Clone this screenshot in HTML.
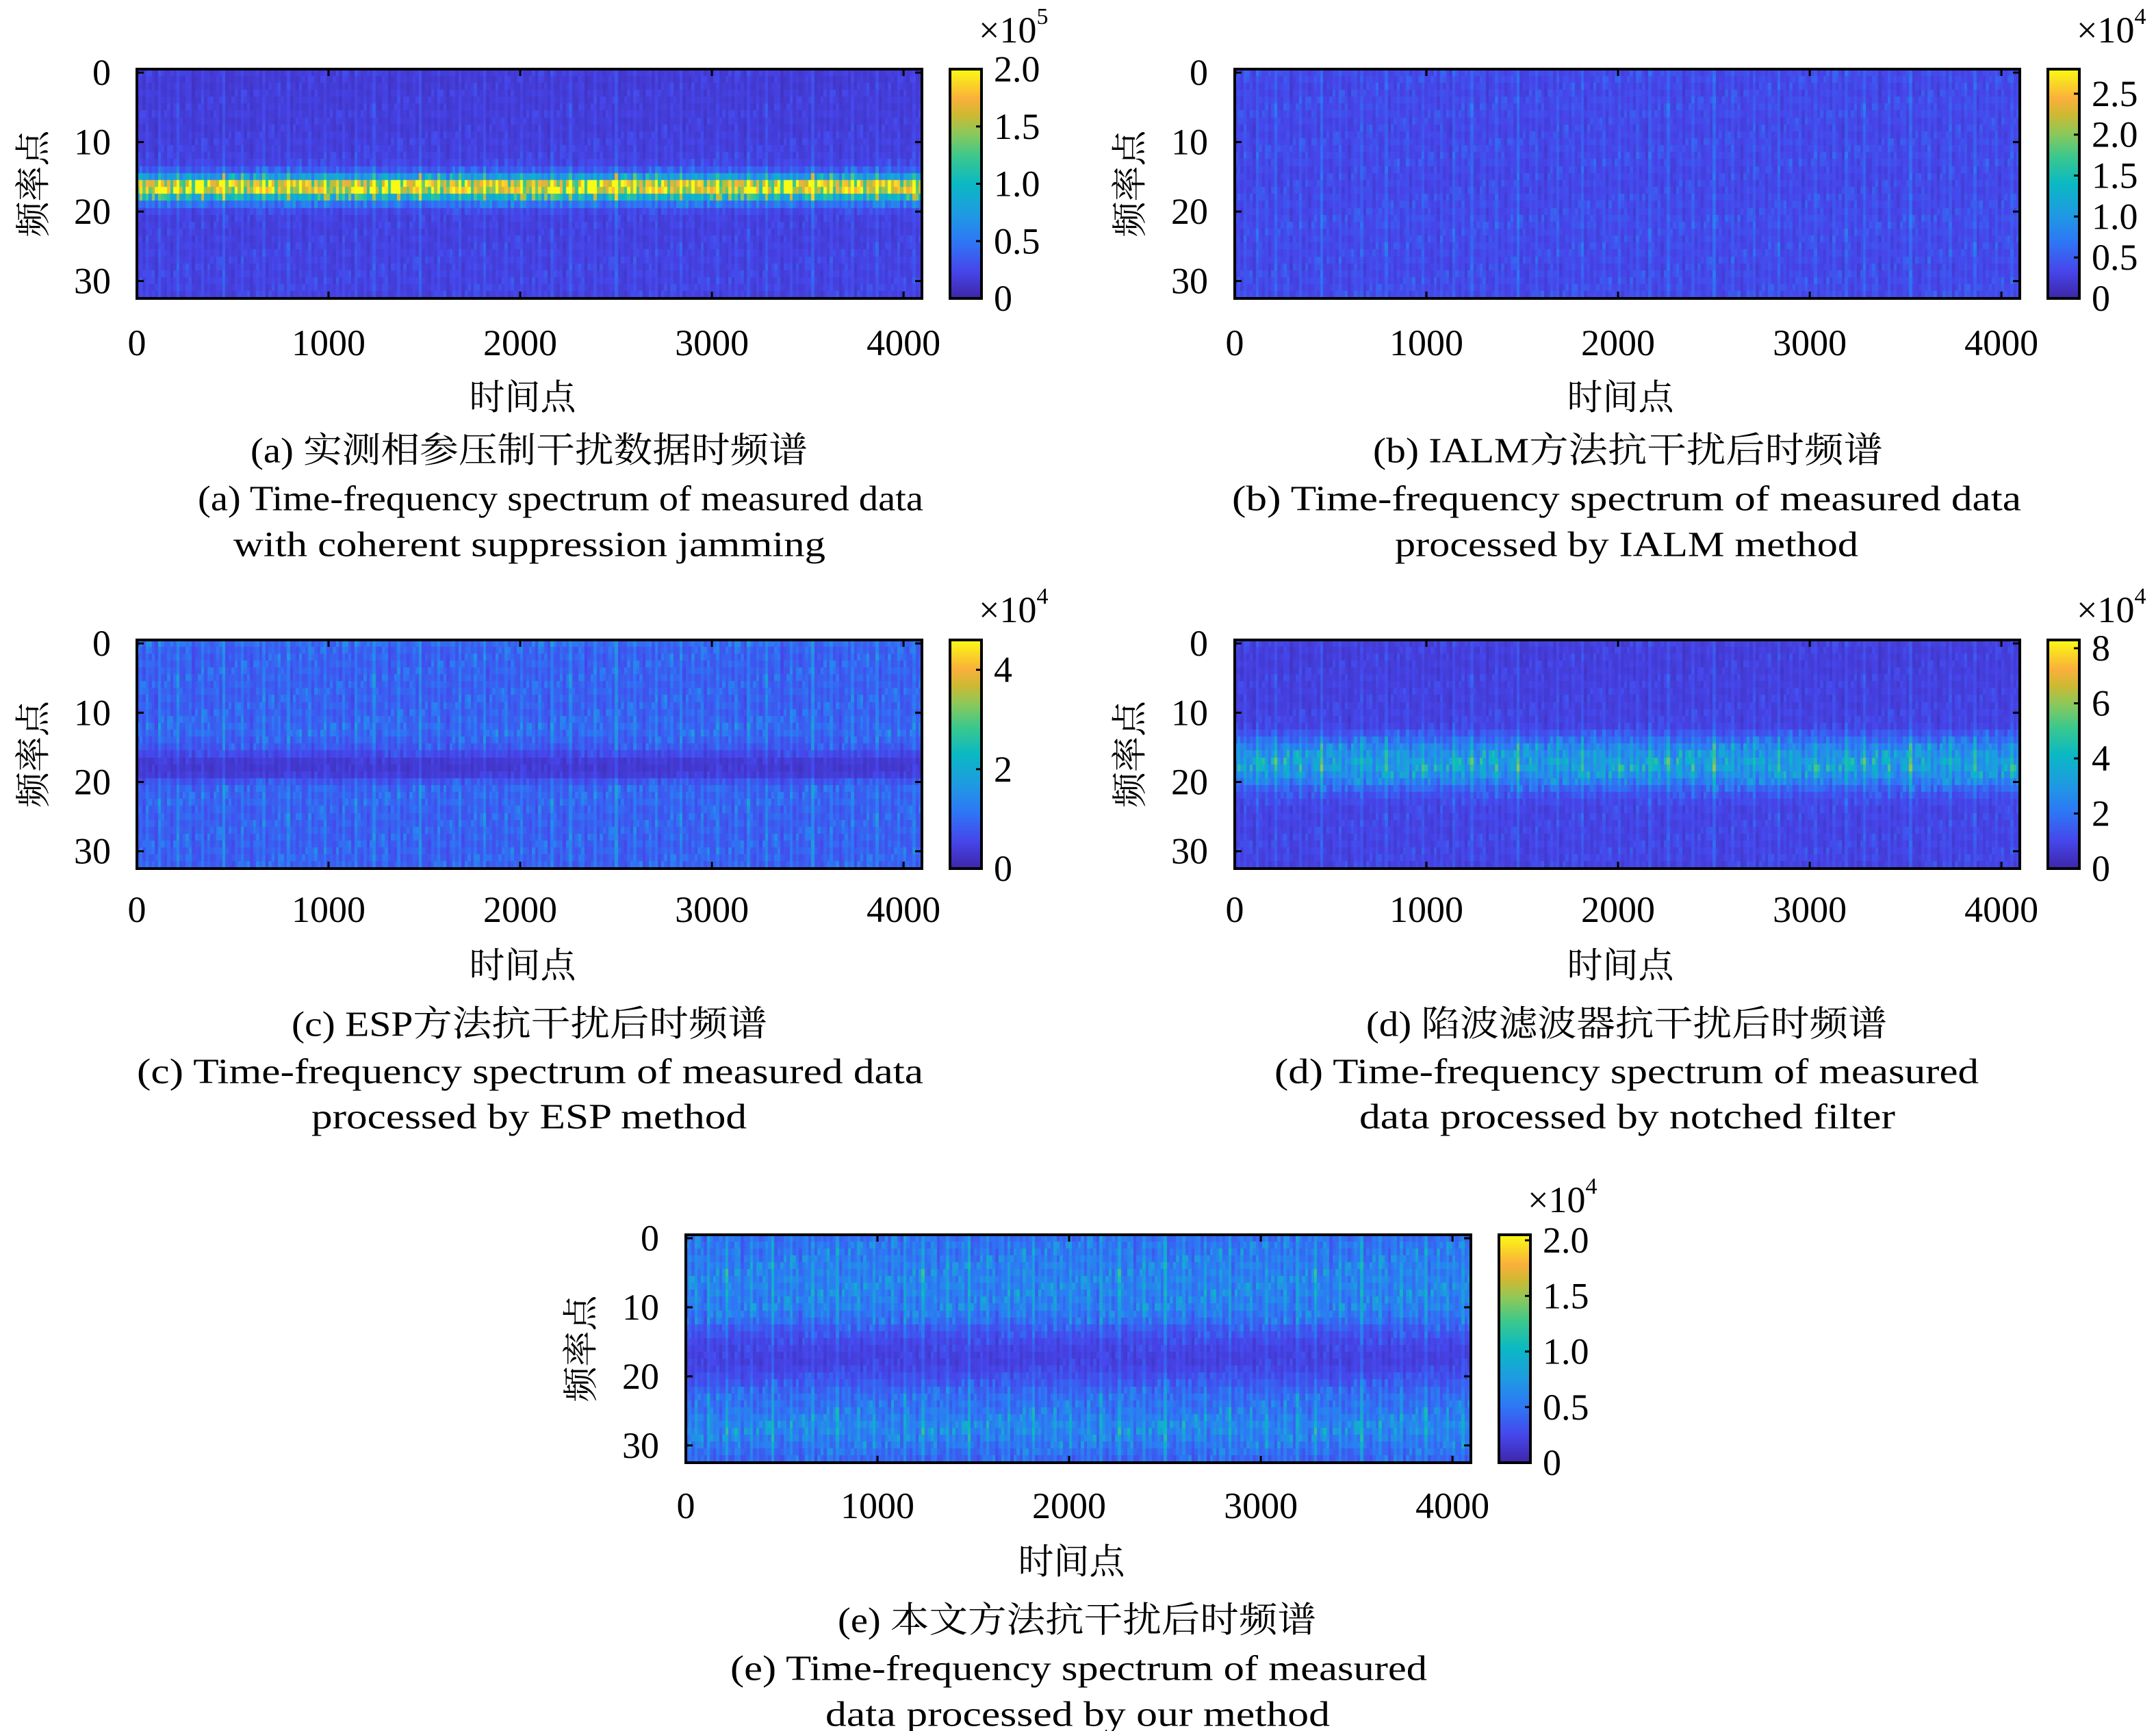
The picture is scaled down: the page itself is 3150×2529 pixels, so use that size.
<!DOCTYPE html>
<html><head><meta charset="utf-8">
<style>
html,body{margin:0;padding:0;background:#fff;}
#root{position:relative;width:3150px;height:2529px;overflow:hidden;background:#fff;}
canvas{position:absolute;}
svg{position:absolute;left:0;top:0;}
text{font-family:"Liberation Serif","Noto Serif CJK SC",serif;fill:#000;}
</style></head>
<body>
<div id="root">
<svg id="svg" width="3150" height="2529"></svg>
</div>
<script>
// ---- data (row profiles in colorbar units; colorbar ranges and ticks) ----
const rowsA = [0.17,0.16,0.16,0.17,0.17,0.17,0.18,0.17,0.17,0.18,0.19,0.19,0.2,0.22,0.35,0.75,1.6,1.65,0.95,0.45,0.24,0.2,0.2,0.19,0.2,0.2,0.21,0.21,0.21,0.21,0.21,0.21,0.2];
const rowsB = [0.35,0.35,0.33,0.33,0.35,0.35,0.35,0.33,0.33,0.33,0.35,0.35,0.35,0.35,0.33,0.33,0.33,0.33,0.35,0.35,0.35,0.37,0.37,0.35,0.35,0.35,0.35,0.35,0.33,0.35,0.35,0.35,0.35];
const rowsC = [0.95,0.85,0.85,0.85,0.85,0.85,0.85,0.85,0.85,0.85,0.85,0.9,0.95,0.95,0.85,0.75,0.55,0.35,0.32,0.38,0.7,0.9,0.9,0.9,0.85,0.85,0.85,0.85,0.85,0.85,0.85,0.85,0.85];
const rowsD = [0.8,0.75,0.75,0.75,0.75,0.8,0.8,0.8,0.8,0.8,0.85,0.85,0.9,1.3,1.8,2.4,2.8,3.1,3.1,2.7,2.2,1.6,1.2,1.0,0.9,0.9,0.9,0.9,0.9,0.9,0.9,0.9,0.85];
const rowsE = [0.45,0.5,0.5,0.52,0.55,0.55,0.57,0.57,0.57,0.55,0.55,0.5,0.45,0.35,0.3,0.25,0.22,0.2,0.2,0.23,0.28,0.33,0.4,0.45,0.47,0.5,0.55,0.6,0.6,0.55,0.5,0.45,0.4];
const colMod = [0.8,1.2,0.7,1.5,0.9,1.0,0.6,1.9,1.1,0.8,1.3,0.7,1.0,2.1,0.9,0.8,1.2,1.4,0.6,1.0,0.9,1.7,0.8,1.1,0.7,1.0,1.3,0.9,2.4,0.8,1.0,0.7,1.2,0.9,1.6,0.8,1.1,0.6,1.0,1.3,0.9,1.8,0.7,1.0,1.2,0.8,1.4,0.9,1.0,2.0,0.7,1.1,0.9,1.3,0.8,1.0,1.5,0.7,1.2,0.9,1.0,1.7,0.8,1.1];
const xTicks = [0,1000,2000,3000,4000];
const yTicks = [0,10,20,30];
const cbTicksA = ["0","0.5","1.0","1.5","2.0"], cbValsA = [0,0.5,1,1.5,2];
const cbTicksB = ["0","0.5","1.0","1.5","2.0","2.5"], cbValsB = [0,0.5,1,1.5,2,2.5];
const cbTicksC = ["0","2","4"], cbValsC = [0,2,4];
const cbTicksD = ["0","2","4","6","8"], cbValsD = [0,2,4,6,8];
const cbTicksE = ["0","0.5","1.0","1.5","2.0"], cbValsE = [0,0.5,1,1.5,2];

const NS="http://www.w3.org/2000/svg";
const svg=document.getElementById('svg');
const root=document.getElementById('root');
const stops=[[0,[62,38,168]],[0.12,[70,70,235]],[0.25,[45,120,245]],[0.37,[30,155,225]],[0.5,[10,185,195]],[0.62,[60,200,140]],[0.72,[140,200,90]],[0.8,[205,185,50]],[0.87,[250,175,60]],[0.93,[250,210,40]],[1,[249,251,20]]];
function cmap(t){t=Math.max(0,Math.min(1,t));for(let i=1;i<stops.length;i++){if(t<=stops[i][0]){const a=stops[i-1],b=stops[i],f=(t-a[0])/(b[0]-a[0]);return 'rgb('+a[1].map((v,k)=>Math.round(v+(b[1][k]-v)*f)).join(',')+')';}}return 'rgb(249,251,20)';}
function el(tag,attrs,txt){const e=document.createElementNS(NS,tag);for(const k in attrs)e.setAttribute(k,attrs[k]);if(txt!==undefined)e.textContent=txt;svg.appendChild(e);return e;}

function panel(p){
  const W=p.x1-p.x0,H=p.y1-p.y0,NR=33,NC=256;
  const xs=v=>p.x0+v/4096*W;
  const ys=r=>p.y0+(r+0.5)/NR*H;
  const cv=document.createElement('canvas');
  cv.width=W;cv.height=H;cv.style.left=p.x0+'px';cv.style.top=p.y0+'px';
  
  
  root.insertBefore(cv,svg);
  const ctx=cv.getContext('2d');
  const cw=W/NC,rh=H/NR;
  for(let r=0;r<NR;r++)for(let c=0;c<NC;c++){
    const m=0.55*colMod[c%64]+0.45*colMod[(c*7+r*13)%64];
    const v=p.rows[r]*m;
    ctx.fillStyle=cmap(v/p.max);
    ctx.fillRect(Math.floor(c*cw),Math.floor(r*rh),Math.ceil(cw)+1,Math.ceil(rh)+1);
  }
  const frame=el('rect',{x:p.x0,y:p.y0,width:W,height:H,fill:'none',stroke:'#000','stroke-width':4});
  
  
  xTicks.forEach(v=>{
    const x=xs(v);
    el('line',{x1:x,y1:p.y1,x2:x,y2:p.y1-10,stroke:'#000','stroke-width':3});
    el('line',{x1:x,y1:p.y0,x2:x,y2:p.y0+10,stroke:'#000','stroke-width':3});
    const t=el('text',{x:x,y:p.xt,'font-size':54,'text-anchor':'middle','dominant-baseline':'central'},String(v));
    
    
  });
  yTicks.forEach(v=>{
    const y=ys(v);
    el('line',{x1:p.x0,y1:y,x2:p.x0+10,y2:y,stroke:'#000','stroke-width':3});
    el('line',{x1:p.x1,y1:y,x2:p.x1-10,y2:y,stroke:'#000','stroke-width':3});
    const t=el('text',{x:p.yr,y:y,'font-size':54,'text-anchor':'end','dominant-baseline':'central'},String(v));
    
    
  });
  const xl=el('text',{x:(p.x0+p.x1)/2-10,y:p.xl,'font-size':52,'text-anchor':'middle','dominant-baseline':'central'},'时间点');
  
  
  const cy=(p.y0+p.y1)/2;
  const yl=el('text',{x:p.ylx,y:cy,'font-size':52,'text-anchor':'middle','dominant-baseline':'central',transform:'rotate(-90 '+p.ylx+' '+cy+')'},'频率点');
  
  
  const gid='g'+p.id;
  const defs=el('defs',{});
  const lg=document.createElementNS(NS,'linearGradient');
  lg.setAttribute('id',gid);lg.setAttribute('x1','0');lg.setAttribute('y1','1');lg.setAttribute('x2','0');lg.setAttribute('y2','0');
  stops.forEach(s=>{const st=document.createElementNS(NS,'stop');st.setAttribute('offset',s[0]);st.setAttribute('stop-color','rgb('+s[1].join(',')+')');lg.appendChild(st);});
  defs.appendChild(lg);
  const cb=el('rect',{x:p.cb,y:p.y0,width:46,height:H,fill:'url(#'+gid+')',stroke:'#000','stroke-width':4});
  
  
  p.cbv.forEach((v,i)=>{
    const y=p.y1-v/p.max*H;
    el('line',{x1:p.cb+46,y1:y,x2:p.cb+38,y2:y,stroke:'#000','stroke-width':3});
    const t=el('text',{x:p.cb+64,y:y,'font-size':54,'dominant-baseline':'central'},p.cbt[i]);
    
    
  });
  const ex=el('text',{x:p.cb+42,y:p.ex,'font-size':54,'dominant-baseline':'central'});
  
  
  ex.innerHTML='×10<tspan font-size="34" dy="-20">'+p.exp+'</tspan>';
  p.cap.forEach(c=>{
    const t=el('text',{x:c[1],y:c[2]-8,'font-size':52,'dominant-baseline':'central',textLength:c[3],lengthAdjust:'spacingAndGlyphs'},c[0]);
    
    
  });
}
panel({id:'a',x0:200,x1:1347,y0:101,y1:436,rows:rowsA,max:2.0,cb:1388,cbv:cbValsA,cbt:cbTicksA,exp:'5',ex:44,xt:501,xl:582,yr:162,ylx:50,
 cap:[['(a) 实测相参压制干扰数据时频谱',366,667,814],['(a) Time-frequency spectrum of measured data',289,737,1060],['with coherent suppression jamming',341,804,865]]});
panel({id:'b',x0:1804,x1:2951,y0:101,y1:436,rows:rowsB,max:2.8,cb:2992,cbv:cbValsB,cbt:cbTicksB,exp:'4',ex:44,xt:501,xl:582,yr:1765,ylx:1652,
 cap:[['(b) IALM方法抗干扰后时频谱',2006,667,745],['(b) Time-frequency spectrum of measured data',1800,737,1153],['processed by IALM method',2038,804,677]]});
panel({id:'c',x0:200,x1:1347,y0:935,y1:1269,rows:rowsC,max:4.6,cb:1388,cbv:cbValsC,cbt:cbTicksC,exp:'4',ex:891,xt:1329,xl:1412,yr:162,ylx:50,
 cap:[['(c) ESP方法抗干扰后时频谱',426,1505,695],['(c) Time-frequency spectrum of measured data',200,1574,1149],['processed by ESP method',455,1640,636]]});
panel({id:'d',x0:1804,x1:2951,y0:935,y1:1269,rows:rowsD,max:8.3,cb:2992,cbv:cbValsD,cbt:cbTicksD,exp:'4',ex:891,xt:1329,xl:1412,yr:1765,ylx:1652,
 cap:[['(d) 陷波滤波器抗干扰后时频谱',1996,1505,761],['(d) Time-frequency spectrum of measured',1862,1574,1029],['data processed by notched filter',1986,1640,783]]});
panel({id:'e',x0:1002,x1:2149,y0:1804,y1:2137,rows:rowsE,max:2.05,cb:2190,cbv:cbValsE,cbt:cbTicksE,exp:'4',ex:1753,xt:2200,xl:2283,yr:963,ylx:850,
 cap:[['(e) 本文方法抗干扰后时频谱',1224,2376,699],['(e) Time-frequency spectrum of measured',1067,2446,1018],['data processed by our method',1206,2513,737]]});
</script>
</body></html>
